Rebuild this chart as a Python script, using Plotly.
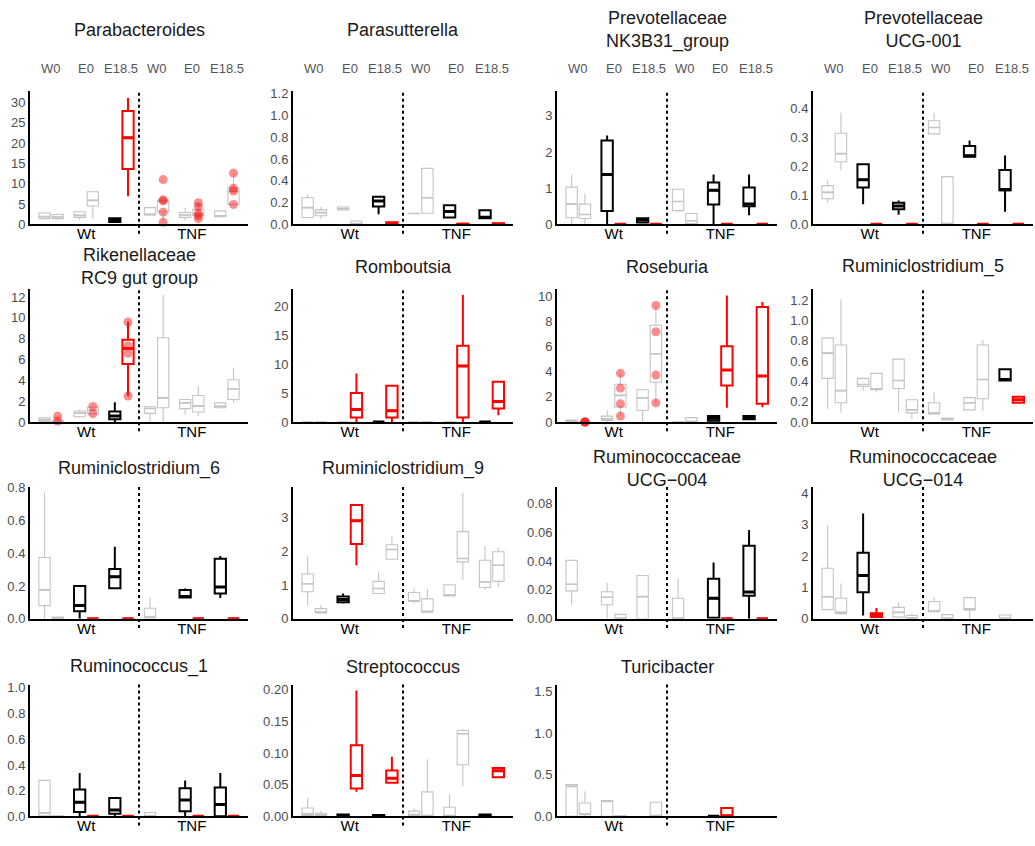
import plotly.graph_objects as go

# ---------------------------------------------------------------------------
# Data: relative abundance (%) per genus, two mouse lines x three timepoints,
# two boxes per timepoint.  Each box is (lower whisker, q1, median, q3, upper
# whisker); None means no box is drawn in that slot.
# Colour codes: g = not significant, k = significant (down), r = significant (up)
# ---------------------------------------------------------------------------
GROUPS = ["Wt", "TNF"]
TIMEPOINTS = ["W0", "E0", "E18.5"]

TITLES = [
    "Parabacteroides", "Parasutterella", "Prevotellaceae<br>NK3B31_group",
    "Prevotellaceae<br>UCG-001", "Rikenellaceae<br>RC9 gut group", "Romboutsia",
    "Roseburia", "Ruminiclostridium_5", "Ruminiclostridium_6",
    "Ruminiclostridium_9", "Ruminococcaceae<br>UCG\u2212004",
    "Ruminococcaceae<br>UCG\u2212014", "Ruminococcus_1", "Streptococcus",
    "Turicibacter",
]

parabacteroides = [
    (1.2, 1.4, 1.9, 2.8, 3.0), (1.0, 1.4, 1.8, 2.4, 2.6),
    (1.1, 1.7, 2.2, 3.1, 3.3), (1.4, 4.5, 5.9, 8.0, 8.0),
    (0.4, 0.6, 1.0, 1.5, 1.6), (6.9, 13.6, 21.3, 27.9, 31.1),
    (2.3, 2.3, 2.4, 4.1, 4.3), (0.5, 3.1, 5.7, 6.0, 6.0),
    (1.0, 1.7, 2.3, 2.9, 4.0), (1.4, 2.2, 2.6, 3.7, 5.3),
    (1.8, 1.9, 2.0, 3.3, 3.3), (4.9, 4.9, 8.1, 8.9, 12.6),
]
parasutterella = [
    (0.06, 0.063, 0.154, 0.244, 0.274), (0.048, 0.079, 0.108, 0.133, 0.16),
    (0.13, 0.133, 0.145, 0.16, 0.165), (0.0, 0.0, 0.0, 0.03, 0.03),
    (0.093, 0.163, 0.214, 0.253, 0.26), (0.0, 0.0, 0.0, 0.02, 0.02),
    (0.1, 0.1, 0.1, 0.1, 0.1), (0.1, 0.102, 0.244, 0.515, 0.515),
    (0.06, 0.063, 0.118, 0.175, 0.184), (0.0, 0.0, 0.0, 0.005, 0.005),
    (0.05, 0.055, 0.065, 0.13, 0.135), (0.0, 0.0, 0.0, 0.01, 0.01),
]
nk3b31 = [
    (0.0, 0.18, 0.56, 1.03, 1.38), (0.0, 0.16, 0.27, 0.56, 0.84),
    (0.0, 0.37, 1.38, 2.32, 2.46), (0.0, 0.0, 0.0, 0.0, 0.0),
    (0.03, 0.05, 0.12, 0.17, 0.18), (0.0, 0.0, 0.0, 0.0, 0.0),
    (0.35, 0.38, 0.63, 0.97, 0.97), (0.0, 0.02, 0.1, 0.3, 0.3),
    (0.0, 0.55, 0.94, 1.16, 1.38), (0.0, 0.0, 0.0, 0.0, 0.0),
    (0.25, 0.5, 0.56, 1.02, 1.38), (0.0, 0.0, 0.0, 0.0, 0.0),
]
ucg001 = [
    (0.074, 0.088, 0.11, 0.133, 0.153), (0.187, 0.215, 0.243, 0.313, 0.384),
    (0.069, 0.127, 0.153, 0.207, 0.207), (0.0, 0.0, 0.0, 0.0, 0.0),
    (0.033, 0.052, 0.063, 0.074, 0.082), (0.0, 0.0, 0.0, 0.0, 0.0),
    (0.31, 0.311, 0.333, 0.356, 0.382), (0.0, 0.0, 0.0, 0.164, 0.164),
    (0.232, 0.232, 0.236, 0.269, 0.288), (0.0, 0.0, 0.0, 0.0, 0.0),
    (0.043, 0.117, 0.119, 0.187, 0.237), (0.0, 0.0, 0.0, 0.0, 0.0),
]
rc9 = [
    (0.0, 0.05, 0.2, 0.4, 0.45), (0.0, 0.0, 0.05, 0.15, 0.55),
    (0.4, 0.5, 0.85, 1.05, 1.2), (0.8, 0.8, 1.1, 1.43, 1.5),
    (0.0, 0.27, 0.58, 1.0, 1.9), (2.47, 5.56, 7.05, 7.9, 9.66),
    (0.0, 0.83, 1.3, 1.47, 1.5), (0.0, 1.37, 2.32, 8.09, 12.2),
    (0.7, 1.28, 1.84, 2.16, 2.2), (0.58, 0.96, 1.52, 2.54, 3.48),
    (1.37, 1.37, 1.5, 1.84, 1.84), (1.84, 2.16, 3.17, 4.05, 5.2),
]
romboutsia = [
    (0.0, 0.0, 0.0, 0.0, 0.0), (0.0, 0.0, 0.0, 0.0, 0.0),
    (0.0, 0.0, 0.0, 0.0, 0.0), (0.0, 0.8, 2.16, 5.04, 8.4),
    (0.0, 0.0, 0.0, 0.0, 0.0), (0.0, 0.8, 1.94, 6.28, 6.3),
    (0.0, 0.0, 0.0, 0.0, 0.0), (0.0, 0.0, 0.0, 0.0, 0.0),
    (0.0, 0.0, 0.0, 0.0, 0.0), (0.0, 0.8, 9.68, 13.2, 22.0),
    (0.0, 0.0, 0.0, 0.0, 0.0), (1.19, 2.33, 3.57, 6.96, 6.96),
]
roseburia = [
    (0.0, 0.0, 0.05, 0.15, 0.2), (0.0, 0.0, 0.0, 0.0, 0.0),
    (0.0, 0.13, 0.25, 0.47, 0.94), (0.47, 1.2, 2.12, 3.0, 3.87),
    (0.0, 0.94, 1.91, 2.56, 2.6), (1.52, 3.16, 5.43, 7.7, 9.27),
    (0.0, 0.0, 0.0, 0.0, 0.0), (0.0, 0.0, 0.0, 0.35, 0.35),
    (0.08, 0.1, 0.3, 0.47, 0.5), (1.13, 2.9, 4.13, 6.03, 10.07),
    (0.21, 0.21, 0.35, 0.47, 0.55), (1.18, 1.46, 3.66, 9.14, 9.55),
]
rumini5 = [
    (0.13, 0.43, 0.68, 0.83, 0.83), (0.09, 0.19, 0.31, 0.76, 1.21),
    (0.31, 0.35, 0.37, 0.43, 0.43), (0.29, 0.32, 0.32, 0.48, 0.48),
    (0.1, 0.33, 0.41, 0.62, 0.62), (0.03, 0.09, 0.12, 0.22, 0.22),
    (0.08, 0.08, 0.09, 0.19, 0.29), (0.02, 0.02, 0.03, 0.04, 0.04),
    (0.12, 0.12, 0.19, 0.24, 0.24), (0.11, 0.23, 0.42, 0.76, 0.81),
    (0.41, 0.41, 0.42, 0.52, 0.52), (0.19, 0.19, 0.22, 0.25, 0.25),
]
rumini6 = [
    (0.0, 0.08, 0.176, 0.374, 0.77), (0.0, 0.0, 0.0, 0.01, 0.01),
    (0.0, 0.046, 0.08, 0.2, 0.2), (0.0, 0.0, 0.0, 0.0, 0.0),
    (0.186, 0.186, 0.256, 0.304, 0.44), (0.0, 0.0, 0.0, 0.0, 0.0),
    (0.0, 0.004, 0.01, 0.064, 0.13), None,
    (0.13, 0.13, 0.136, 0.176, 0.184), (0.0, 0.0, 0.0, 0.0, 0.0),
    (0.126, 0.154, 0.194, 0.366, 0.384), (0.0, 0.0, 0.0, 0.0, 0.0),
]
rumini9 = [
    (0.41, 0.8, 1.04, 1.33, 1.86), (0.17, 0.17, 0.2, 0.3, 0.41),
    (0.45, 0.49, 0.57, 0.66, 0.75), (1.59, 2.22, 2.91, 3.38, 3.38),
    (0.75, 0.75, 0.9, 1.11, 1.38), (1.77, 1.77, 2.06, 2.2, 2.44),
    (0.45, 0.51, 0.53, 0.78, 0.9), (0.2, 0.2, 0.2, 0.59, 0.88),
    (0.68, 0.68, 0.7, 1.01, 1.01), (1.16, 1.69, 1.79, 2.59, 3.75),
    (0.85, 0.93, 1.09, 1.74, 2.17), (0.95, 1.11, 1.59, 1.99, 2.12),
]
ucg004 = [
    (0.0097, 0.0193, 0.0239, 0.0405, 0.0405), None,
    (0.0, 0.0097, 0.0149, 0.0187, 0.025), (0.0, 0.0, 0.0, 0.003, 0.003),
    (0.0, 0.0, 0.0153, 0.03, 0.03), None,
    (0.0, 0.0, 0.0, 0.0142, 0.0281), None,
    (0.0, 0.0007, 0.0142, 0.0277, 0.039), (0.0, 0.0, 0.0, 0.0, 0.0),
    (0.0, 0.016, 0.0185, 0.0507, 0.0615), (0.0, 0.0, 0.0, 0.0, 0.0),
]
ucg014 = [
    (0.29, 0.29, 0.7, 1.61, 2.99), (0.12, 0.16, 0.2, 0.65, 1.12),
    (0.1, 0.84, 1.38, 2.1, 3.35), (0.05, 0.05, 0.1, 0.17, 0.34),
    (0.05, 0.05, 0.2, 0.36, 0.52), (0.0, 0.0, 0.02, 0.1, 0.17),
    (0.2, 0.22, 0.24, 0.55, 0.7), (0.0, 0.0, 0.0, 0.13, 0.13),
    (0.0, 0.29, 0.29, 0.67, 0.67), None,
    (0.0, 0.0, 0.0, 0.12, 0.12), None,
]
ruminococcus1 = [
    (0.0, 0.005, 0.025, 0.28, 0.28), (0.0, 0.0, 0.0, 0.005, 0.005),
    (0.0, 0.033, 0.109, 0.21, 0.338), (0.0, 0.0, 0.0, 0.0, 0.0),
    (0.0, 0.02, 0.05, 0.142, 0.145), (0.0, 0.0, 0.0, 0.0, 0.0),
    (0.0, 0.0, 0.0, 0.03, 0.03), None,
    (0.0, 0.04, 0.127, 0.219, 0.28), (0.0, 0.0, 0.0, 0.0, 0.0),
    (0.0, 0.0, 0.092, 0.224, 0.338), (0.0, 0.0, 0.0, 0.0, 0.0),
]
streptococcus = [
    (0.0, 0.0015, 0.004, 0.0133, 0.029), (0.0, 0.001, 0.002, 0.005, 0.009),
    (0.0, 0.0, 0.0, 0.003, 0.003), (0.0387, 0.0438, 0.0644, 0.1124, 0.1986),
    (0.0, 0.0, 0.0, 0.002, 0.002), (0.052, 0.0531, 0.06, 0.0722, 0.094),
    (0.0, 0.0015, 0.002, 0.0082, 0.012), (0.0, 0.0, 0.0, 0.0387, 0.09),
    (0.0, 0.0, 0.0, 0.0144, 0.035), (0.048, 0.0814, 0.1305, 0.1356, 0.138),
    (0.0, 0.0, 0.0, 0.003, 0.003), (0.06, 0.0619, 0.072, 0.0763, 0.077),
]
turicibacter = [
    (0.0, 0.0, 0.36, 0.38, 0.38), (0.0, 0.02, 0.03, 0.16, 0.30),
    (0.0, 0.0, 0.18, 0.19, 0.19), (0.0, 0.0, 0.0, 0.01, 0.01),
    None, (0.0, 0.0, 0.0, 0.17, 0.17),
    None, None,
    (0.0, 0.0, 0.0, 0.0, 0.0), (0.0, 0.0, 0.0, 0.1, 0.1),
    None, None,
]

STATS = [parabacteroides, parasutterella, nk3b31, ucg001, rc9, romboutsia,
         roseburia, rumini5, rumini6, rumini9, ucg004, ucg014, ruminococcus1,
         streptococcus, turicibacter]

COLOR_CODES = [
    "ggggkr" + "gggggg",   # Parabacteroides
    "ggggkr" + "ggkrkr",   # Parasutterella
    "ggkrkr" + "ggkrkr",   # NK3B31_group
    "ggkrkr" + "ggkrkr",   # UCG-001
    "ggggkr" + "gggggg",   # RC9 gut group
    "gggrkr" + "gggrkr",   # Romboutsia
    "gggggg" + "ggkrkr",   # Roseburia
    "gggggg" + "ggggkr",   # Ruminiclostridium_5
    "ggkrkr" + "ggkrkr",   # Ruminiclostridium_6
    "ggkrgg" + "gggggg",   # Ruminiclostridium_9
    "gggggg" + "ggkrkr",   # UCG-004
    "ggkrgg" + "gggggg",   # UCG-014
    "ggkrkr" + "ggkrkr",   # Ruminococcus_1
    "ggkrkr" + "ggggkr",   # Streptococcus
    "gggggg" + "ggkrgg",   # Turicibacter
]

# individual sample values overlaid on some boxes: {panel: {slot: values}}
POINTS = {
    0: {7: [11.0, 6.0, 5.8, 3.0, 0.5], 9: [5.3, 4.3, 2.7, 2.1, 1.4],
        11: [12.6, 8.9, 8.2, 4.9]},
    4: {1: [0.55, 0.1], 3: [1.5, 0.8], 5: [9.6, 7.3, 6.6, 2.5]},
    6: {1: [0.0, 0.0, 0.0, 0.0], 3: [3.87, 2.69, 1.46, 0.47],
        5: [9.27, 7.18, 3.73, 1.52]},
}

# y-axis: (upper limit, tick step, tick format)
Y_AXES = [
    (32.9, 5, "d"), (1.23, 0.2, ".1f"), (3.7, 1, "d"), (0.46, 0.1, ".1f"),
    (12.75, 2, "d"), (23.0, 5, "d"), (10.56, 2, "d"), (1.31, 0.2, ".1f"),
    (0.806, 0.2, ".1f"), (3.92, 1, "d"), (0.0915, 0.02, ".2f"), (4.2, 1, "d"),
    (1.026, 0.2, ".1f"), (0.208, 0.05, ".2f"), (1.58, 0.5, ".1f"),
]

# ---------------------------------------------------------------------------
# Layout geometry (pixels)
# ---------------------------------------------------------------------------
W, H = 1035, 846
COLS = [(30, 248), (293, 513), (557, 777), (813, 1033)]
ROWS = [(86, 222), (288, 423), (489, 623), (690, 824)]
TITLE_Y = [24, 265, 470, 672]
TOP_LABEL_Y = 64

DODGE = 0.1875
BOX_W = 0.32
STYLE = {
    "g": dict(color="#c4c4c4", width=1.1, median=1.6),
    "k": dict(color="#000000", width=2.0, median=3.0),
    "r": dict(color="#ff0000", width=2.0, median=3.0),
}
FONT = "Liberation Sans, Arial, sans-serif"

fig = go.Figure()
layout = dict(
    width=W, height=H, margin=dict(l=0, r=0, t=0, b=0),
    paper_bgcolor="white", plot_bgcolor="white", showlegend=False,
    font=dict(family=FONT),
)
annotations = []
shapes = []


def slot_x(slot):
    group_pos = slot // 2 + 1          # 1..6 across Wt then TNF
    return group_pos + (DODGE if slot % 2 else -DODGE)


for p, stats in enumerate(STATS):
    r, c = divmod(p, 4)
    xa = "x" if p == 0 else f"x{p + 1}"
    ya = "y" if p == 0 else f"y{p + 1}"
    xl, xr = COLS[c]
    yt, yb = ROWS[r]
    ymax, step, fmt = Y_AXES[p]
    codes = COLOR_CODES[p]

    for s, st in enumerate(stats):
        if st is None:
            continue
        lo, q1, med, q3, hi = st
        sty = STYLE[codes[s]]
        x = slot_x(s)
        fig.add_trace(go.Box(
            x=[x], lowerfence=[lo], q1=[q1], median=[med], q3=[q3],
            upperfence=[hi], width=BOX_W, whiskerwidth=0, boxpoints=False,
            line=dict(color=sty["color"], width=sty["width"]),
            fillcolor="rgba(255,255,255,0)", xaxis=xa, yaxis=ya,
            hoverinfo="skip",
        ))
        # thicker median bar, as in a classic box plot
        fig.add_trace(go.Scatter(
            x=[x - BOX_W / 2, x + BOX_W / 2], y=[med, med], mode="lines",
            line=dict(color=sty["color"], width=sty["median"]),
            xaxis=xa, yaxis=ya, hoverinfo="skip",
        ))

    for s, vals in POINTS.get(p, {}).items():
        fig.add_trace(go.Scatter(
            x=[slot_x(s)] * len(vals), y=vals, mode="markers",
            marker=dict(color="rgba(245,30,30,0.5)", size=9, line=dict(width=0)),
            xaxis=xa, yaxis=ya, hoverinfo="skip", cliponaxis=False,
        ))

    ticks = []
    v = 0.0
    while v <= ymax + 1e-9:
        ticks.append(round(v, 6))
        v += step
    ticktext = [format(t, fmt) if fmt != "d" else str(int(round(t))) for t in ticks]

    key = "" if p == 0 else str(p + 1)
    layout["xaxis" + key] = dict(
        domain=[xl / W, xr / W], anchor=ya, range=[0.4, 6.6],
        tickvals=[2, 5], ticktext=GROUPS, ticks="", showgrid=False,
        zeroline=False, showline=True, linecolor="black", linewidth=2,
        tickfont=dict(size=15, color="black", family=FONT), layer="above traces",
        ticklabelstandoff=-5, fixedrange=True,
    )
    layout["yaxis" + key] = dict(
        domain=[1 - yb / H, 1 - yt / H], anchor=xa, range=[0, ymax],
        tickvals=ticks, ticktext=ticktext, ticks="", showgrid=False,
        zeroline=False, showline=True, linecolor="black", linewidth=2,
        tickfont=dict(size=13, color="#4d4d4d", family=FONT),
        layer="above traces", fixedrange=True,
    )

    # dotted separator between Wt and TNF
    shapes.append(dict(
        type="line", xref=xa, yref=f"{ya} domain", x0=3.5, x1=3.5, y0=-0.07,
        y1=1, line=dict(color="black", width=2, dash="dot"), layer="above",
    ))

    annotations.append(dict(
        text=TITLES[p], xref="paper", yref="paper",
        x=(xl + xr) / 2 / W, y=1 - TITLE_Y[r] / H, xanchor="center",
        yanchor="middle", showarrow=False,
        font=dict(size=18, color="#1a1a1a", family=FONT),
    ))

    if r == 0:
        for g in range(6):
            annotations.append(dict(
                text=TIMEPOINTS[g % 3], xref=xa, yref="paper", x=g + 1,
                y=1 - TOP_LABEL_Y / H, xanchor="center", yanchor="middle",
                showarrow=False, font=dict(size=13, color="#555555", family=FONT),
            ))

layout["annotations"] = annotations
layout["shapes"] = shapes
fig.update_layout(**layout)
fig.write_html("out.html")
